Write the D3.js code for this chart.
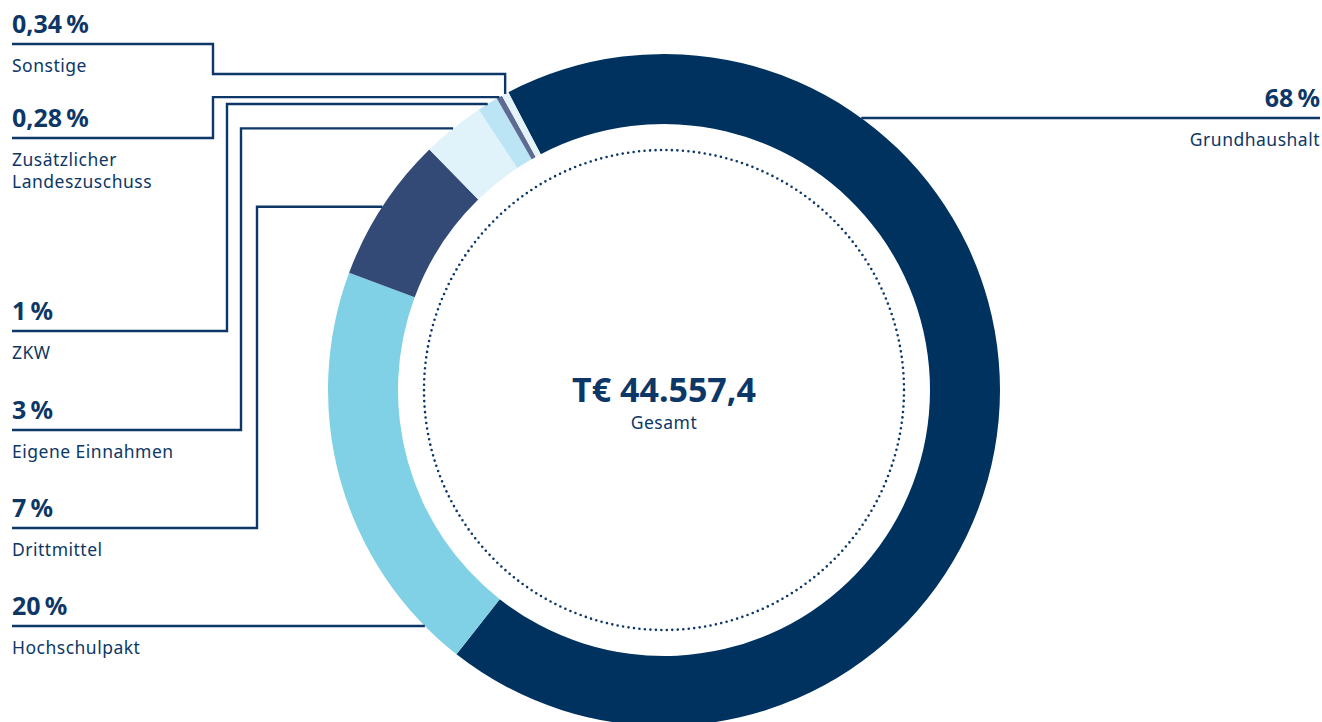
<!DOCTYPE html>
<html>
<head>
<meta charset="utf-8">
<script src="https://cdn.jsdelivr.net/npm/d3@7"></script>
<style>
  body { margin: 0; background: #fff; }
  svg { display: block; font-family: "Noto Sans", sans-serif; }
  .val { font-weight: 700; font-size: 25px; fill: #0d3766; }
  .cat { font-size: 17.5px; fill: #0d3766; letter-spacing: 0.5px; }
  .leader { fill: none; stroke: #0d3766; stroke-width: 2.4; }
</style>
</head>
<body>
<div id="chart"></div>
<script>
// data
let categories = ["Grundhaushalt", "Hochschulpakt", "Drittmittel", "Eigene Einnahmen", "ZKW", "Zusätzlicher Landeszuschuss", "Sonstige"];
let shares = [68, 20, 7, 3, 1, 0.28, 0.34];
let shareLabels = ["68\u2009%", "20\u2009%", "7\u2009%", "3\u2009%", "1\u2009%", "0,28\u2009%", "0,34\u2009%"];
let colors = ["#00325f", "#80d1e6", "#344a76", "#e0f2fa", "#bbe5f4", "#5d6b93", "#e4f3fa"];
let totalLabel = "T€ 44.557,4";
let totalCaption = "Gesamt";

// label layout (lineY: y of the underline, elbow: x of the vertical run)
let layout = [
  { side: "right", lineY: 118 },
  { side: "left", lineY: 626, elbow: null },
  { side: "left", lineY: 528, elbow: 257 },
  { side: "left", lineY: 430, elbow: 241 },
  { side: "left", lineY: 331, elbow: 227 },
  { side: "left", lineY: 138, elbow: 213 },
  { side: "left", lineY: 44, elbow: 213, drop: true }
];

let width = 1322,
  height = 722,
  cx = 664,
  cy = 390,
  outerR = 336,
  innerR = 266,
  dotR = 240;

let svg = d3
  .select("#chart")
  .append("svg")
  .attr("width", width)
  .attr("height", height);

let rows = categories.map((c, i) => ({ name: c, value: shares[i], label: shareLabels[i], color: colors[i], lay: layout[i] }));

let startA = (-27.6 * Math.PI) / 180;

let pie = d3
  .pie()
  .sort(null)
  .value((d) => d.value)
  .startAngle(startA)
  .endAngle(startA + 2 * Math.PI);

let arc = d3.arc().innerRadius(innerR).outerRadius(outerR);

let ring = svg.append("g").attr("transform", "translate(" + cx + "," + cy + ")");

let arcs = pie(rows);

ring
  .selectAll("path.slice")
  .data(arcs)
  .join("path")
  .attr("class", "slice")
  .attr("d", arc)
  .attr("fill", (d) => d.data.color);

ring
  .append("circle")
  .attr("r", dotR)
  .attr("fill", "none")
  .attr("stroke", "#0d3766")
  .attr("stroke-width", 2.6)
  .attr("stroke-linecap", "round")
  .attr("stroke-dasharray", "0 5.5");

// center text
svg
  .append("text")
  .attr("x", cx)
  .attr("y", cy + 12)
  .attr("text-anchor", "middle")
  .style("font-weight", 700)
  .style("font-size", "34px")
  .style("fill", "#0d3766")
  .text(totalLabel);

svg
  .append("text")
  .attr("class", "cat")
  .attr("x", cx)
  .attr("y", cy + 39)
  .attr("text-anchor", "middle")
  .text(totalCaption);

// leaders + labels
function ringX(y, side) {
  let dy = y - cy;
  let dx = Math.sqrt(outerR * outerR - dy * dy);
  return side === "right" ? cx + dx : cx - dx;
}

function midPoint(d) {
  let a = (d.startAngle + d.endAngle) / 2;
  return [cx + Math.sin(a) * outerR, cy - Math.cos(a) * outerR];
}

let leaders = svg.append("g");

arcs.forEach((d) => {
  let lay = d.data.lay;
  let pts;
  if (lay.side === "right") {
    pts = [[width - 2, lay.lineY], [ringX(lay.lineY, "right"), lay.lineY]];
  } else if (lay.elbow === null) {
    pts = [[12, lay.lineY], [ringX(lay.lineY, "left"), lay.lineY]];
  } else if (lay.drop) {
    let m = midPoint(d);
    let jogY = lay.lineY + 30;
    pts = [[12, lay.lineY], [lay.elbow, lay.lineY], [lay.elbow, jogY], [m[0], jogY], [m[0], m[1]]];
  } else {
    let m = midPoint(d);
    pts = [[12, lay.lineY], [lay.elbow, lay.lineY], [lay.elbow, m[1]], [ringX(m[1], "left"), m[1]]];
  }
  leaders.append("path").attr("class", "leader").attr("d", d3.line()(pts));

  let anchor = lay.side === "right" ? "end" : "start";
  let tx = lay.side === "right" ? width - 2 : 12;

  svg
    .append("text")
    .attr("class", "val")
    .attr("x", tx)
    .attr("y", lay.lineY - 11)
    .attr("text-anchor", anchor)
    .text(d.data.label);

  let words = d.data.name === "Zusätzlicher Landeszuschuss" ? ["Zusätzlicher", "Landeszuschuss"] : [d.data.name];
  let t = svg
    .append("text")
    .attr("class", "cat")
    .attr("x", tx)
    .attr("y", lay.lineY + 28)
    .attr("text-anchor", anchor);
  words.forEach((w, i) => {
    t.append("tspan").attr("x", tx).attr("dy", i === 0 ? 0 : 22).text(w);
  });
});
</script>
</body>
</html>
